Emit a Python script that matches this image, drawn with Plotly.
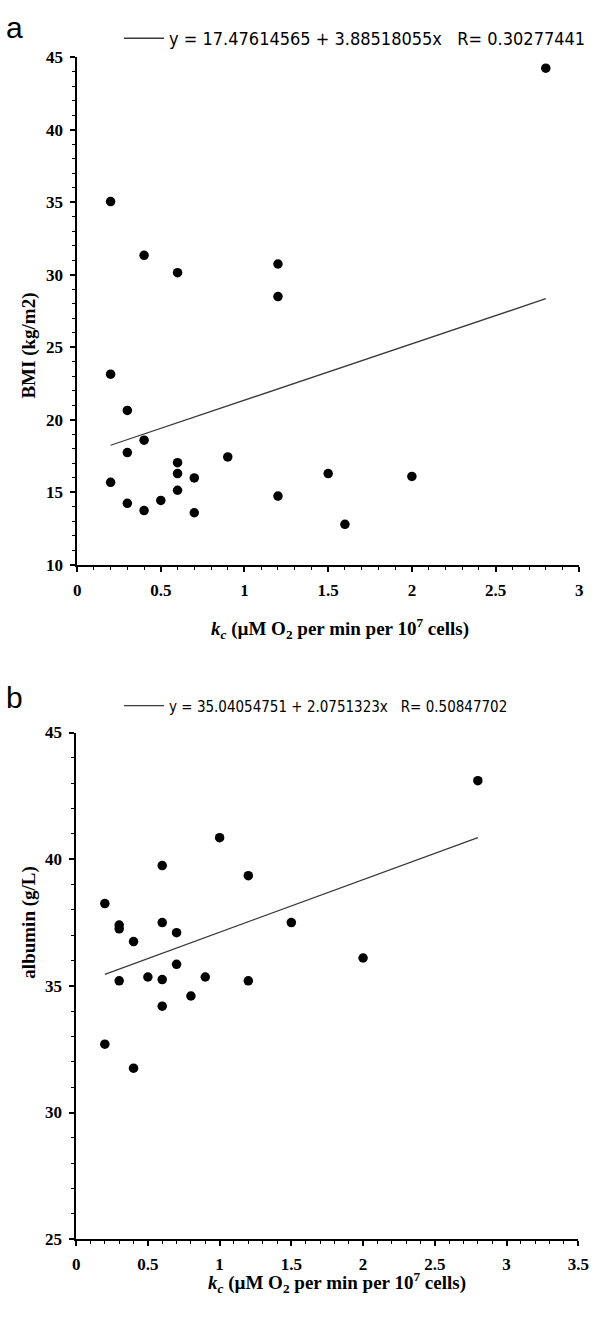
import plotly.graph_objects as go

# ---------------- data ----------------
bmi_kc = [0.2, 0.2, 0.2, 0.3, 0.3, 0.3, 0.4, 0.4, 0.4, 0.5, 0.6, 0.6, 0.6, 0.6,
          0.7, 0.7, 0.9, 1.2, 1.2, 1.2, 1.5, 1.6, 2.0, 2.8]
bmi = [35.05, 23.15, 15.7, 20.65, 17.75, 14.25, 31.35, 18.6, 13.75, 14.45, 30.15, 17.05,
       16.3, 15.15, 16.0, 13.6, 17.45, 30.75, 28.5, 14.75, 16.3, 12.8, 16.1, 44.25]
bmi_fit = (17.47614565, 3.88518055)
bmi_label = "y = 17.47614565 + 3.88518055x\u00a0\u00a0\u00a0R= 0.30277441"

alb_kc = [0.2, 0.2, 0.3, 0.3, 0.3, 0.4, 0.4, 0.5, 0.6, 0.6, 0.6, 0.6, 0.7, 0.7,
          0.8, 0.9, 1.0, 1.2, 1.2, 1.5, 2.0, 2.8]
alb = [38.25, 32.7, 37.4, 37.25, 35.2, 36.75, 31.75, 35.35, 39.75, 37.5, 35.25, 34.2,
       37.1, 35.85, 34.6, 35.35, 40.85, 39.35, 35.2, 37.5, 36.1, 43.1]
alb_fit = (35.04054751, 2.0751323)
alb_label = "y = 35.04054751 + 2.0751323x\u00a0\u00a0\u00a0R= 0.50847702"

xtitle = "<i>k</i><sub><i>c</i></sub> (µM O<sub>2</sub> per min per 10<sup>7</sup> cells)"

# ---------------- figure ----------------
W, H = 600, 1332
SERIF = "Liberation Serif, Times New Roman, serif"
SANS = "Liberation Sans, Arial, sans-serif"
NARROW = "Liberation Sans Narrow, DejaVu Sans Condensed, Arial Narrow, sans-serif"


def fy(p):
    return 1 - p / H


def fit_line(xs, coef):
    x0, x1 = min(xs), max(xs)
    return [x0, x1], [coef[0] + coef[1] * x0, coef[0] + coef[1] * x1]


fig = go.Figure()

fig.add_trace(go.Scatter(x=bmi_kc, y=bmi, mode="markers", xaxis="x", yaxis="y",
                         marker=dict(color="black", size=9.5), showlegend=False))
lx, ly = fit_line(bmi_kc, bmi_fit)
fig.add_trace(go.Scatter(x=lx, y=ly, mode="lines", xaxis="x", yaxis="y",
                         line=dict(color="#3a3a3a", width=1.3), name=bmi_label,
                         legend="legend"))

fig.add_trace(go.Scatter(x=alb_kc, y=alb, mode="markers", xaxis="x2", yaxis="y2",
                         marker=dict(color="black", size=9.5), showlegend=False))
lx, ly = fit_line(alb_kc, alb_fit)
fig.add_trace(go.Scatter(x=lx, y=ly, mode="lines", xaxis="x2", yaxis="y2",
                         line=dict(color="#3a3a3a", width=1.3), name=alb_label,
                         legend="legend2"))

axis_common = dict(showline=True, linecolor="black", linewidth=1.5, ticks="outside",
                   ticklen=5, tickwidth=1.5, tickcolor="black", showgrid=False,
                   zeroline=False, mirror=False,
                   tickfont=dict(family=SERIF, size=17, color="black", weight="bold"))

fig.update_layout(
    width=W, height=H, plot_bgcolor="white", paper_bgcolor="white",
    margin=dict(l=0, r=0, t=0, b=0),
    xaxis=dict(domain=[75 / W, 590 / W], anchor="y", range=[0, 3], dtick=0.5, tick0=0,
               ticklabelstandoff=4,
               minor=dict(dtick=0.1, ticks="outside", ticklen=3, tickwidth=1,
                          tickcolor="black", showgrid=False), **axis_common),
    yaxis=dict(domain=[fy(564), fy(49)], anchor="x", range=[10, 45], dtick=5, tick0=0,
               ticklabelstandoff=4,
               minor=dict(dtick=1, ticks="outside", ticklen=3, tickwidth=1,
                          tickcolor="black", showgrid=False), **axis_common),
    xaxis2=dict(domain=[74 / W, 589 / W], anchor="y2", range=[0, 3.5], dtick=0.5, tick0=0,
                ticklabelstandoff=4,
                minor=dict(dtick=0.1, ticks="outside", ticklen=3, tickwidth=1,
                           tickcolor="black", showgrid=False), **axis_common),
    yaxis2=dict(domain=[fy(1248), fy(734)], anchor="x2", range=[25, 45], dtick=5, tick0=0,
                ticklabelstandoff=4,
                minor=dict(dtick=1, ticks="outside", ticklen=3, tickwidth=1,
                           tickcolor="black", showgrid=False), **axis_common),
    legend=dict(x=118 / W, y=fy(30), xanchor="left", yanchor="middle",
                bgcolor="rgba(0,0,0,0)", font=dict(family=NARROW, size=18, color="black"),
                itemwidth=40),
    legend2=dict(x=118 / W, y=fy(707), xanchor="left", yanchor="middle",
                 bgcolor="rgba(0,0,0,0)", font=dict(family=NARROW, size=15, color="black"),
                 itemwidth=40),
    annotations=[
        dict(text="a", x=0, y=1.0, xref="paper", yref="paper", xanchor="left",
             yanchor="top", showarrow=False, font=dict(family=SANS, size=30, color="black")),
        dict(text="b", x=0, y=fy(680), xref="paper", yref="paper", xanchor="left",
             yanchor="top", showarrow=False, font=dict(family=SANS, size=30, color="black")),
        dict(text="BMI (kg/m2)", x=12 / W, y=fy(286), xref="paper", yref="paper",
             textangle=-90, showarrow=False,
             font=dict(family=SERIF, size=19, color="black", weight="bold")),
        dict(text="albumin (g/L)", x=12 / W, y=fy(986), xref="paper", yref="paper",
             textangle=-90, showarrow=False,
             font=dict(family=SERIF, size=19, color="black", weight="bold")),
        dict(text=xtitle, x=345 / W, y=fy(628), xref="paper", yref="paper",
             showarrow=False, font=dict(family=SERIF, size=19, color="black", weight="bold")),
        dict(text=xtitle, x=342 / W, y=fy(1308), xref="paper", yref="paper",
             showarrow=False, font=dict(family=SERIF, size=19, color="black", weight="bold")),
    ],
)

fig.write_html("out.html", config={"displayModeBar": False},
               post_script="document.body.style.margin='0';document.body.style.overflow='hidden';")
